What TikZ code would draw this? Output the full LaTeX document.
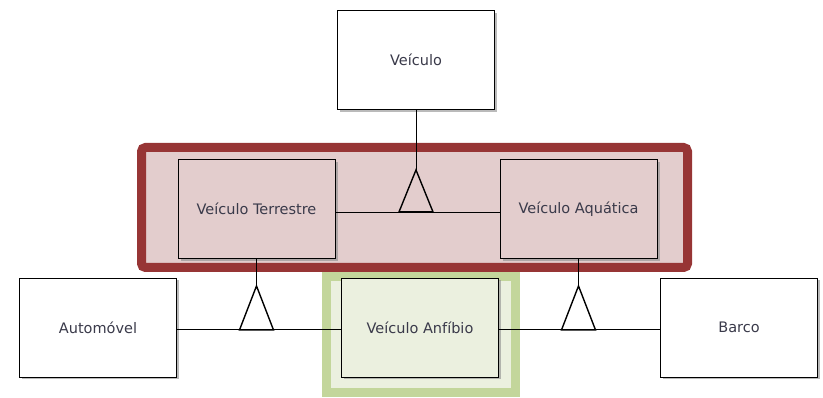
\documentclass[tikz,border=0pt]{standalone}
\usepackage{fontspec}
\setmainfont{DejaVu Sans}
\usetikzlibrary{shadows}
\definecolor{redborder}{HTML}{973535}
\definecolor{redfill}{HTML}{E3CDCD}
\definecolor{greenborder}{HTML}{C3D69B}
\definecolor{greenfill}{HTML}{EBF0DF}
\definecolor{txt}{HTML}{3A3A4A}
\begin{document}
\begin{tikzpicture}[x=1pt,y=-1pt,
  cls/.style={draw=black,line width=0.9pt,minimum width=157pt,minimum height=99pt,
    inner sep=0pt,font=\fontsize{14.5}{16}\selectfont,text=txt,
    drop shadow={shadow xshift=2.5pt,shadow yshift=-2.5pt,fill=black!45,opacity=0.6}},
  gen/.style={draw=black,line width=1.4pt},
  conn/.style={draw=black,line width=0.8pt}]
\useasboundingbox (0,0) rectangle (823,398);
% highlight areas
\node[draw=redborder,line width=9pt,fill=redfill,rounded corners=4pt,
  minimum width=546pt,minimum height=120pt,inner sep=0pt] (hlred) at (414.5,207.5) {};
\node[draw=greenborder,line width=9pt,fill=greenfill,
  minimum width=189pt,minimum height=116pt,inner sep=0pt] (hlgreen) at (421,335) {};
% classes
\node[cls,fill=white] (veic) at (416,60) {Veículo};
\node[cls,fill=redfill] (terr) at (256.5,209) {Veículo Terrestre};
\node[cls,fill=redfill] (aqua) at (578.5,209) {Veículo Aquática};
\node[cls,fill=white] (auto) at (98,327.5) {Automóvel};
\node[cls,fill=greenfill] (anf) at (420,327.5) {Veículo Anfíbio};
\node[cls,fill=white] (barco) at (739,327.5) {Barco};
% generalisation: Terrestre/Aquatica -> Veiculo
\coordinate (t1) at (veic.south |- 0,212);
\draw[conn] (terr.east |- t1) -- (aqua.west |- t1);
\draw[conn] (veic.south) -- ++(0,60) coordinate (a1);
\draw[gen] (a1) -- ++(-17,42) -- ++(34,0) -- cycle;
% Automovel/Anfibio -> Terrestre
\coordinate (t2) at (terr.south |- 0,329);
\draw[conn] (auto.east |- t2) -- (anf.west |- t2);
\draw[conn] (terr.south) -- ++(0,27) coordinate (a2);
\draw[gen] (a2) -- ++(-17,44) -- ++(34,0) -- cycle;
% Anfibio/Barco -> Aquatica
\coordinate (t3) at (aqua.south |- 0,329);
\draw[conn] (anf.east |- t3) -- (barco.west |- t3);
\draw[conn] (aqua.south) -- ++(0,27) coordinate (a3);
\draw[gen] (a3) -- ++(-17,44) -- ++(34,0) -- cycle;
\end{tikzpicture}
\end{document}
